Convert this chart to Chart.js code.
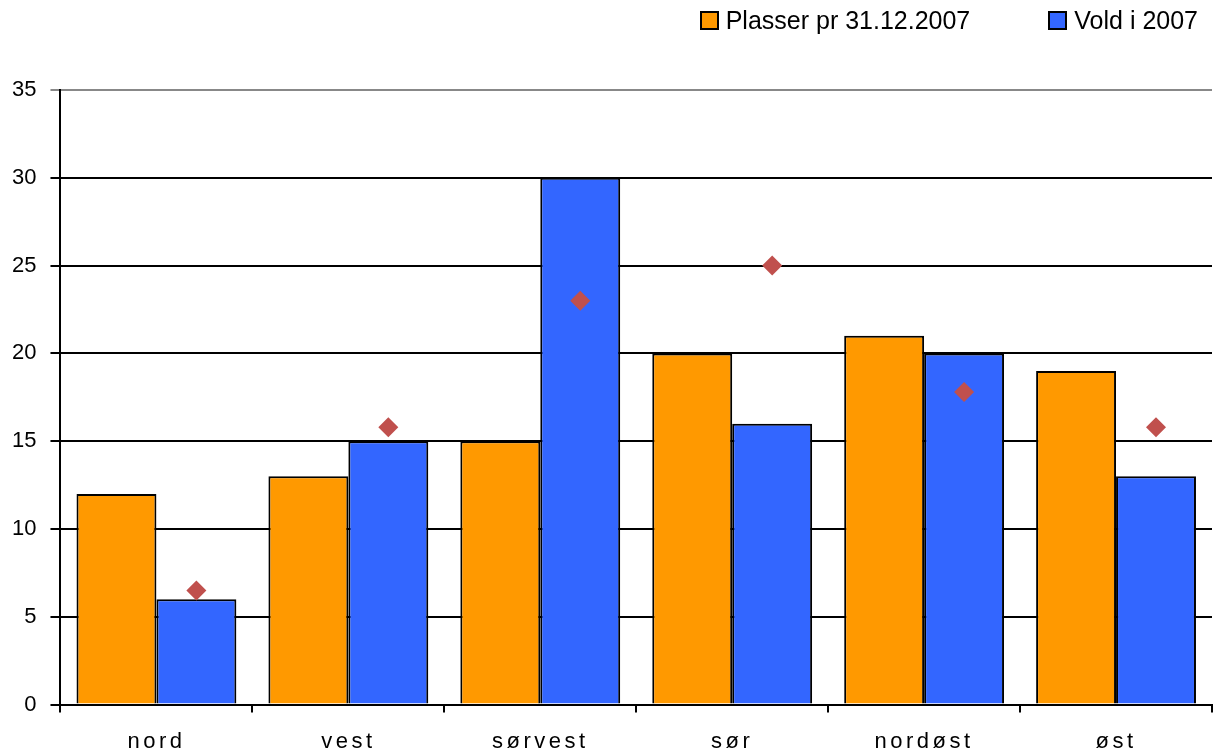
<!DOCTYPE html>
<html>
<head>
<meta charset="utf-8">
<script src="https://cdn.jsdelivr.net/npm/chart.js@4"></script>
<style>
  html, body { margin: 0; padding: 0; background: #fff; overflow: hidden; }
  #page { width: 1214px; height: 751px; position: relative; overflow: hidden; }
  #wrap { width: 1222px; height: 751px; position: absolute; left: 0; top: 0; }
  #legend { position: absolute; top: 6px; right: 16px; display: flex; font-family: 'Liberation Sans', Arial, sans-serif; font-size: 25px; color: #000; }
  #legend .item { display: flex; align-items: center; margin-left: 78px; }
  #legend .box { width: 15px; height: 15px; border: 2px solid #000; margin-right: 7px; }
</style>
</head>
<body>
<div id="page">
  <div id="wrap"><canvas id="chart"></canvas></div>
  <div id="legend"></div>
</div>
<script>
const regions = ['nord', 'vest', 'sørvest', 'sør', 'nordøst', 'øst'];
const plasser = [12, 13, 15, 20, 21, 19];
const vold = [6, 15, 30, 16, 20, 13];
const markers = [6.5, 15.8, 23, 25, 17.8, 15.8];

const colors = { plasser: '#FF9900', vold: '#3366FF', marker: '#C0504D' };

// diamonds sit over the second bar of each group
const alignMarkers = {
    id: 'alignMarkers',
    afterDatasetsUpdate(chart) {
        const bars = chart.getDatasetMeta(1).data;
        chart.getDatasetMeta(2).data.forEach((pt, i) => {
            if (bars[i]) pt.x = bars[i].x;
        });
    },
};

// spaced-out category labels like the original
const spacedLabels = {
    id: 'spacedLabels',
    beforeDraw(chart) {
        const sc = chart.scales.x;
        if (!sc || sc._spaced) return;
        const orig = sc.drawLabels.bind(sc);
        sc.drawLabels = function (area) {
            const ctx = chart.ctx;
            ctx.save();
            ctx.letterSpacing = '3.5px';
            orig(area);
            ctx.restore();
        };
        sc._spaced = true;
    },
};

const chart = new Chart(document.getElementById('chart'), {
    type: 'bar',
    data: {
        labels: regions,
        datasets: [
            {
                label: 'Plasser pr 31.12.2007',
                data: plasser,
                backgroundColor: colors.plasser,
                borderColor: '#000',
                borderWidth: 2,
            },
            {
                label: 'Vold i 2007',
                data: vold,
                backgroundColor: colors.vold,
                borderColor: '#000',
                borderWidth: 2,
            },
            {
                type: 'line',
                label: 'marker',
                data: markers,
                order: -1,
                showLine: false,
                pointStyle: 'rectRot',
                pointRadius: 10,
                pointHoverRadius: 10,
                pointBackgroundColor: colors.marker,
                pointBorderColor: colors.marker,
                pointBorderWidth: 0,
            },
        ],
    },
    options: {
        responsive: true,
        maintainAspectRatio: false,
        animation: false,
        layout: { padding: { top: 90, right: 0, left: -2, bottom: -20 } },
        datasets: {
            bar: { categoryPercentage: 0.833, barPercentage: 1.0 },
        },
        plugins: {
            tooltip: { enabled: false },
            legend: { display: false },
        },
        scales: {
            x: {
                offset: true,
                grid: {
                    offset: true,
                    drawOnChartArea: false,
                    color: '#000',
                    lineWidth: 2,
                    tickLength: 8,
                },
                border: { color: '#000', width: 2 },
                ticks: {
                    color: '#000',
                    padding: 16,
                    font: { family: 'Liberation Sans', size: 22 },
                },
            },
            y: {
                min: 0,
                max: 35,
                ticks: {
                    stepSize: 5,
                    color: '#000',
                    padding: 14,
                    font: { family: 'Liberation Sans', size: 22 },
                },
                grid: {
                    color: ctx => (ctx.tick && ctx.tick.value === 35 ? '#888' : '#000'),
                    lineWidth: 2,
                    tickLength: 10,
                },
                border: { color: '#000', width: 2 },
            },
        },
    },
    plugins: [alignMarkers, spacedLabels],
});

// legend for the two bar series
const legend = document.getElementById('legend');
chart.data.datasets.slice(0, 2).forEach(ds => {
    const item = document.createElement('div');
    item.className = 'item';
    const box = document.createElement('span');
    box.className = 'box';
    box.style.background = ds.backgroundColor;
    const txt = document.createElement('span');
    txt.textContent = ds.label;
    item.appendChild(box);
    item.appendChild(txt);
    legend.appendChild(item);
});
</script>
</body>
</html>
